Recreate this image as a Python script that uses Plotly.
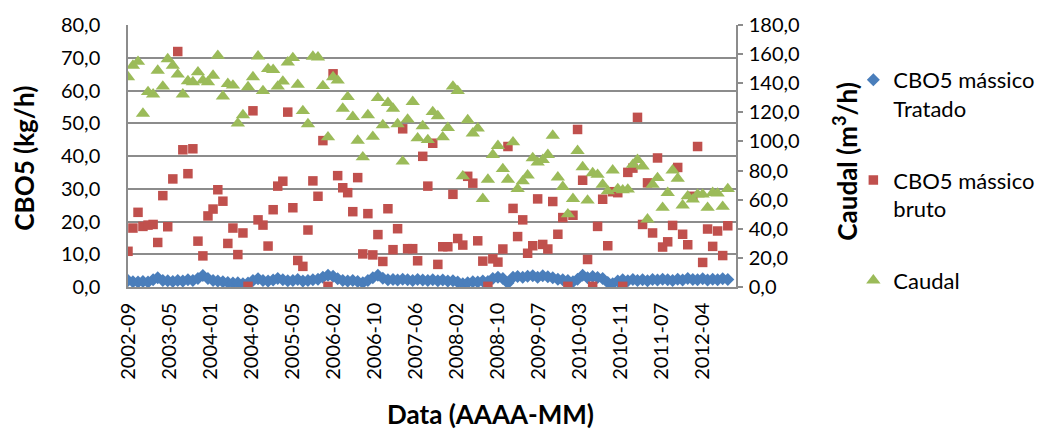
import pandas as pd
import plotly.graph_objects as go

# Monthly sampling dates (first day of each month)
dates = pd.date_range("2002-09-01", periods=121, freq="MS")

# CBO5 mass load in treated effluent (kg/h)
cbo5_tratado = [
    2.0, 1.6, 1.5, 1.7, 1.5, 2.2, 2.8, 2.0, 1.9, 1.7,
    2.0, 1.8, 2.2, 2.0, 2.6, 3.5, 2.6, 2.0, 1.8, 1.6,
    1.4, 1.2, 1.3, 1.0, 1.2, 2.0, 2.5, 2.0, 1.8, 2.1,
    2.6, 2.2, 1.9, 2.0, 2.3, 1.8, 2.0, 2.2, 2.4, 3.0,
    3.6, 3.3, 2.5, 2.0, 1.8, 2.0, 1.7, 1.3, 2.0, 2.8,
    3.6, 2.7, 2.2, 2.3, 2.1, 2.4, 2.2, 2.0, 2.3, 2.1,
    2.0, 2.2, 1.9, 2.1, 1.8, 1.9, 1.5, 1.0, 1.3, 1.6,
    1.5, 1.8, 1.7, 2.6, 3.0, 2.6, 1.2, 3.0, 3.2, 3.0,
    3.3, 3.4, 3.0, 3.4, 3.1, 2.8, 2.4, 2.2, 2.0, 1.6,
    2.4, 3.6, 2.8, 3.2, 2.9, 2.6, 1.4, 1.0, 1.8, 2.2,
    1.9, 2.3, 2.0, 2.2, 1.9, 2.3, 2.1, 2.4, 2.2, 2.0,
    2.4, 2.1, 2.6, 2.3, 2.2, 2.5, 2.1, 2.4, 2.2, 2.5,
    2.3,
]

# CBO5 mass load in raw influent (kg/h)
cbo5_bruto = [
    10.9, 18.0, 22.8, 18.5, 18.9, 19.1, 13.6, 27.9, 18.4, 33.0,
    71.9, 41.9, 34.6, 42.2, 14.0, 9.5, 21.7, 23.8, 29.7, 26.2,
    13.3, 18.0, 9.9, 16.5, 0.2, 53.8, 20.5, 18.9, 12.5, 23.6,
    30.8, 32.3, 53.4, 24.2, 8.1, 6.3, 17.4, 32.4, 27.7, 44.7,
    0.2, 65.1, 34.0, 30.3, 28.8, 23.0, 33.4, 10.1, 22.4, 9.8,
    16.0, 7.8, 23.9, 11.4, 17.8, 48.3, 11.7, 11.7, 8.0, 39.9,
    30.8, 43.9, 6.9, 12.3, 12.3, 28.3, 14.8, 12.8, 33.8, 31.7,
    14.1, 7.9, 0.2, 8.6, 7.6, 11.6, 42.9, 24.0, 15.4, 20.5,
    10.3, 12.6, 26.9, 13.0, 11.6, 26.1, 16.1, 21.2, 0.2, 21.9,
    48.1, 32.6, 8.4, 0.2, 18.5, 26.8, 12.6, 29.1, 28.8, 0.2,
    35.0, 36.3, 51.8, 19.1, 31.8, 16.5, 39.4, 12.2, 13.8, 18.8,
    36.5, 16.1, 12.9, 27.7, 42.9, 7.5, 17.7, 12.4, 17.1, 9.6,
    18.7,
]

# Flow rate (m3/h)
caudal = [
    144.2, 152.1, 154.8, 119.2, 134.0, 132.4, 148.7, 137.8, 156.6, 152.1,
    146.0, 132.4, 141.5, 140.8, 147.6, 141.9, 140.8, 145.3, 158.9, 131.0,
    139.6, 138.5, 112.4, 118.1, 137.4, 144.2, 158.5, 134.7, 149.8, 149.2,
    137.8, 141.2, 154.4, 157.4, 139.0, 121.0, 111.9, 158.3, 157.8, 138.1,
    102.9, 144.2, 141.9, 122.6, 130.6, 116.9, 100.6, 89.2, 118.1, 103.3,
    129.9, 111.3, 126.5, 122.6, 111.9, 86.3, 115.1, 127.2, 102.2, 110.6,
    101.0, 120.3, 117.4, 102.9, 109.4, 137.8, 134.7, 76.1, 114.7, 105.6,
    109.0, 60.6, 73.8, 90.8, 97.0, 81.1, 73.8, 99.5, 67.4, 72.7,
    76.7, 88.6, 85.6, 87.4, 90.8, 104.0, 75.4, 68.8, 50.0, 60.6,
    93.6, 82.4, 59.5, 78.3, 77.2, 70.4, 65.8, 80.2, 67.4, 66.5,
    67.0, 84.0, 87.4, 82.9, 46.5, 70.4, 74.9, 54.5, 64.7, 80.2,
    74.5, 56.1, 62.4, 60.2, 63.6, 63.6, 54.5, 64.7, 64.3, 55.2,
    67.4,
]

FONT = "Lato, 'Open Sans', sans-serif"
GRID = "#8c8c8c"
TICK_SIZE = 20
TITLE_SIZE = 26

fig = go.Figure()

fig.add_trace(go.Scatter(
    x=dates, y=cbo5_tratado, mode="markers", name="CBO5 mássico<br>Tratado",
    legendgroup="a",
    marker=dict(symbol="diamond", size=10, color="#4A7EBB"),
))
fig.add_trace(go.Scatter(
    x=dates, y=cbo5_bruto, mode="markers", name="CBO5 mássico<br>bruto",
    legendgroup="b",
    marker=dict(symbol="square", size=9.5, color="#C0504D"),
))
fig.add_trace(go.Scatter(
    x=dates, y=caudal, mode="markers", name="Caudal", yaxis="y2",
    legendgroup="c",
    marker=dict(symbol="triangle-up", size=12.5, color="#9BBB59"),
))

fig.update_layout(
    width=1052, height=431,
    margin=dict(l=128, r=304, t=22, b=144),
    paper_bgcolor="white", plot_bgcolor="white",
    separators=", ",
    font=dict(family=FONT, size=TICK_SIZE, color="#000000"),
    showlegend=True,
    legend=dict(
        x=1.193, xanchor="left", y=0.87, yanchor="top",
        traceorder="grouped", tracegroupgap=40, valign="top",
        font=dict(family=FONT, size=22, color="#000000"),
        itemsizing="trace",
    ),
    xaxis=dict(
        type="date",
        range=["2002-09-01", "2012-10-21"],
        tick0="2002-09-01", dtick=250 * 86400000,
        tickformat="%Y-%m", tickangle=-90,
        showgrid=False, zeroline=False,
        showline=True, linecolor=GRID, linewidth=1.5,
        ticks="", ticklabelstandoff=6,
        tickfont=dict(family=FONT, size=TICK_SIZE),
    ),
    yaxis=dict(
        range=[0, 80], dtick=10, tickformat=".1f",
        showgrid=True, gridcolor=GRID, gridwidth=1.5,
        zeroline=False,
        showline=True, linecolor=GRID, linewidth=1.5,
        ticks="", ticklabelstandoff=22,
        tickfont=dict(family=FONT, size=TICK_SIZE),
    ),
    yaxis2=dict(
        range=[0, 180], dtick=20, tickformat=".1f",
        overlaying="y", side="right",
        showgrid=False, zeroline=False,
        showline=True, linecolor=GRID, linewidth=1.5,
        ticks="outside", ticklen=5, tickcolor=GRID, tickwidth=1.5,
        ticklabelstandoff=2,
        tickfont=dict(family=FONT, size=TICK_SIZE),
    ),
    annotations=[
        dict(text="<b>CBO5 (kg/h)</b>", xref="paper", yref="paper",
             x=-0.171, y=0.49, xanchor="center", yanchor="middle",
             textangle=-90, showarrow=False,
             font=dict(family=FONT, size=TITLE_SIZE)),
        dict(text="<b>Caudal (m<sup>3</sup>/h)</b>", xref="paper", yref="paper",
             x=1.18, y=0.48, xanchor="center", yanchor="middle",
             textangle=-90, showarrow=False,
             font=dict(family=FONT, size=TITLE_SIZE)),
        dict(text="<b>Data (AAAA-MM)</b>", xref="paper", yref="paper",
             x=0.597, y=-0.485, xanchor="center", yanchor="middle",
             showarrow=False,
             font=dict(family=FONT, size=TITLE_SIZE)),
    ],
)

fig.write_html("out.html")
